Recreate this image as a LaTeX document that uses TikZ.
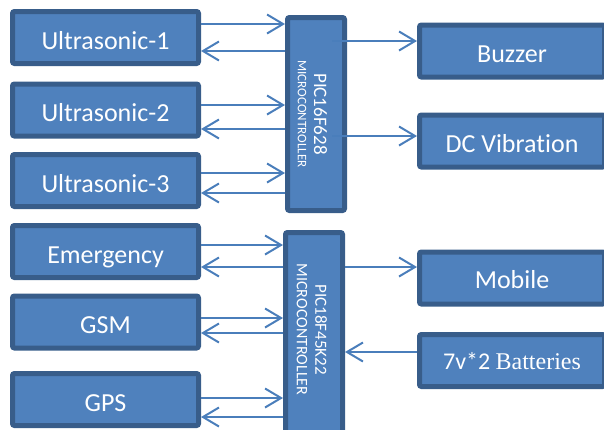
\documentclass[tikz,border=0pt]{standalone}
\usepackage{fontspec}
\setmainfont{Carlito}[Ligatures=NoCommon]
\newfontfamily\timesf{Liberation Serif}
\usetikzlibrary{arrows.meta}
\definecolor{boxfill}{HTML}{4F81BD}
\definecolor{boxline}{HTML}{385D8A}
\definecolor{arrowc}{HTML}{4A7EBB}
\begin{document}
\begin{tikzpicture}[x=1pt,y=-1pt,
  blk/.style={draw=boxline, fill=boxfill, line width=5pt, rounded corners=2pt, text=white,
    font=\fontsize{26}{28}\selectfont, minimum width=186pt, minimum height=52pt, inner sep=0pt,
    text height=23.5pt, text depth=0pt},
  mcu/.style={blk, minimum width=57pt},
  vtext/.style={rotate=-90, text=white, inner sep=0pt},
  arr/.style={draw=arrowc, line width=2pt, -{Straight Barb[length=16pt,width=19pt]}}]
\useasboundingbox (0,0) rectangle (604,429);
\clip (0,0) rectangle (604,429);
% left blocks
\node[blk] (u1)  at (105.5,37.5)  {Ultrasonic-1};
\node[blk] (u2)  at (105.5,110)   {Ultrasonic-2};
\node[blk] (u3)  at (105.5,180.5) {Ultrasonic-3};
\node[blk] (em)  at (105.5,251.5) {Emergency};
\node[blk] (gsm) at (105.5,322)   {GSM};
\node[blk] (gps) at (105.5,399.5) {GPS};
% microcontrollers
\node[mcu, minimum height=193pt] (m1) at (316,114) {};
\node[mcu, minimum height=225pt] (m2) at (314,345) {};
\node[vtext, font=\fontsize{19}{20}\selectfont] (m1a) at ([xshift=4.5pt]m1.center) {PIC16F628};
\node[vtext, font=\fontsize{13}{14}\selectfont] (m1b) at ([xshift=-14pt]m1.center) {MICROCONTROLLER};
\node[vtext, font=\fontsize{17}{18}\selectfont] (m2a) at ([xshift=7pt,yshift=15.5pt]m2.center) {PIC18F45K22};
\node[vtext, font=\fontsize{16}{17}\selectfont] (m2b) at ([xshift=-12pt,yshift=15.5pt]m2.center) {MICROCONTROLLER};
% right blocks
\node[blk, minimum width=185pt, text height=22pt] (bz)  at (512,51)    {Buzzer};
\node[blk, minimum width=185pt, text height=22pt] (dc)  at (512,141)   {DC Vibration};
\node[blk, minimum width=185pt, text height=21.5pt] (mob) at (512,278)   {Mobile};
\node[blk, minimum width=185pt, font=\fontsize{24}{26}\selectfont, text height=17pt] (bat) at (512,360.5) {7v*2 {\timesf Batteries}};
% left links
\foreach \s/\m/\o/\i in {u1/m1/13.5/-13.5, u2/m1/5/-19, u3/m1/7.5/-12.5,
                         em/m2/6.5/-15.5, gsm/m2/4/-11, gps/m2/1.5/-17.5} {
  \coordinate (\s-o) at ([yshift=\o pt]\s.east);
  \coordinate (\s-i) at ([yshift=\i pt]\s.east);
  \draw[arr] (\s-o) -- (\s-o -| \m.west);
  \draw[arr] (\s-i -| \m.west) -- (\s-i);
}
% right links
\coordinate (bz-i) at ([yshift=10pt]bz.west);
\coordinate (dc-i) at ([yshift=5pt]dc.west);
\coordinate (mob-i) at ([yshift=11pt]mob.west);
\coordinate (bat-o) at ([yshift=8.5pt]bat.west);
\coordinate (m1-r) at ([xshift=-15pt]m1.east);
\draw[arr] (bz-i -| m1-r) -- (bz-i);
\draw[arr] (dc-i -| m1-r) -- (dc-i);
\draw[arr] (mob-i -| m2.east) -- (mob-i);
\draw[arr] (bat-o) -- (bat-o -| m2.east);
\end{tikzpicture}
\end{document}
